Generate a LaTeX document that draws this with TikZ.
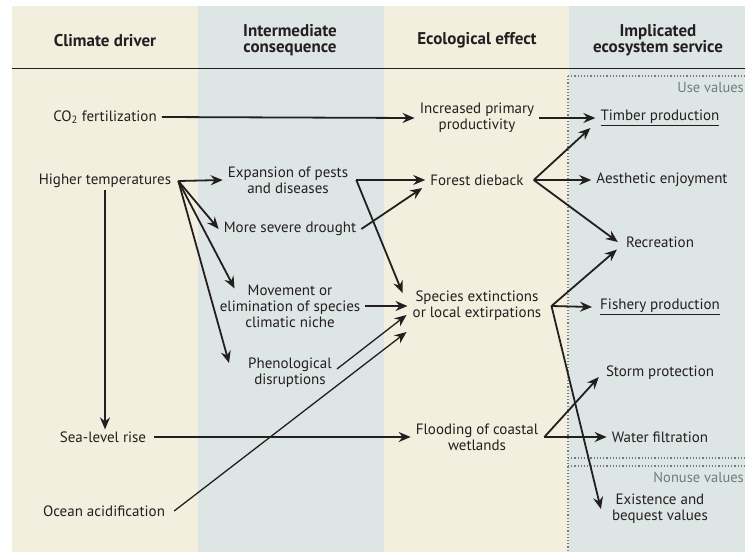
\documentclass[tikz,border=0pt]{standalone}
\usepackage{fontspec}
\setmainfont{PT Sans}
\usetikzlibrary{arrows.meta}
\definecolor{sand}{RGB}{243,239,222}
\definecolor{mist}{RGB}{222,229,229}
\definecolor{ink}{RGB}{35,31,32}
\definecolor{sage}{RGB}{105,128,124}
\tikzset{
  lbl/.style={align=center, text=ink, font=\fontsize{15}{16}\selectfont, inner xsep=5pt, inner ysep=2pt},
  hdr/.style={align=center, text=ink, font=\fontsize{17}{16}\selectfont\bfseries},
  grp/.style={text=sage, font=\fontsize{14.5}{14}\selectfont, inner sep=0pt, anchor=east},
  arr/.style={-{Stealth[length=12pt,width=10pt,inset=4pt]}, line width=1.8pt, draw=ink},
  thinarr/.style={arr, line width=1.3pt},
  band/.style={draw=sage, line width=1.2pt, dash pattern=on 1.2pt off 2pt}
}
\begin{document}
\begin{tikzpicture}[x=1pt, y=-1pt]
\useasboundingbox (0,0) rectangle (745,552);
% columns
\foreach \xa/\xb/\col in {12/198/sand, 198/384/mist, 384/569/sand, 569/745/mist}
  \fill[\col] (\xa,6) rectangle (\xb,552);
\draw[ink, line width=1pt] (12,68) -- (745,68);
% headers
\node[hdr] (h1) at (105,41) {Climate driver};
\node[hdr] (h2) at (290,40) {Intermediate\\consequence};
\node[hdr] (h3) at (477,40) {Ecological effect};
\node[hdr] (h4) at (658,40) {Implicated\\ecosystem service};
% value groups
\draw[band] (568,76) -- (745,76);
\draw[band] (568,76) -- (568,552);
\draw[band] (568,458) -- (745,458);
\draw[band] (568,466) -- (745,466);
\node[grp] (use) at (744,88) {Use values};
\node[grp] (nonuse) at (744,477) {Nonuse values};
% climate drivers
\node[lbl] (co2) at (105,117) {CO\textsubscript{2} fertilization};
\node[lbl] (ht) at (105,181) {Higher temperatures};
\node[lbl] (slr) at (103,437) {Sea-level rise};
\node[lbl] (oa) at (104,511) {Ocean acidification};
% intermediate consequences
\node[lbl] (pests) at (288,180) {Expansion of pests\\and diseases};
\node[lbl] (drought) at (290,229) {More severe drought};
\node[lbl] (niche) at (290,306) {Movement or\\elimination of species\\climatic niche};
\node[lbl] (pheno) at (290,373) {Phenological\\disruptions};
% ecological effects
\node[lbl] (ipp) at (477,118) {Increased primary\\productivity};
\node[lbl] (dieback) at (477,180) {Forest dieback};
\node[lbl] (extinct) at (477,306) {Species extinctions\\or local extirpations};
\node[lbl] (flood) at (477,437) {Flooding of coastal\\wetlands};
% ecosystem services
\node[lbl] (timber) at (660,118) {\underline{Timber production}};
\node[lbl] (aesth) at (662,180) {Aesthetic enjoyment};
\node[lbl] (recr) at (660,242) {Recreation};
\node[lbl] (fish) at (660,307) {\underline{Fishery production}};
\node[lbl] (storm) at (660,373) {Storm protection};
\node[lbl] (water) at (660,437) {Water filtration};
\node[lbl] (exist) at (660,509) {Existence and\\bequest values};
% fan points
\coordinate (htfan) at ([xshift=2pt]ht.east);
\coordinate (pestfan) at ([xshift=3pt]pests.east);
\coordinate (diefan) at ([xshift=5pt]dieback.east);
\coordinate (extfan) at ([xshift=5pt]extinct.east);
\coordinate (floodfan) at ([xshift=1pt]flood.east);
% connectors
\draw[arr] (co2.east) -- (ipp.west);
\draw[arr] (ipp.east) -- (timber.west);
\draw[arr] (htfan) -- (pests.west);
\draw[arr] (htfan) -- (drought.west);
\draw[arr] (htfan) -- ([xshift=20pt,yshift=-6pt]niche.north west);
\draw[arr] (htfan) -- ([xshift=-14pt,yshift=10pt]pheno.west);
\draw[arr] (ht.south) -- (ht.south |- slr.north);
\draw[arr] (pestfan) -- (dieback.west);
\draw[arr] (pestfan) -- ([xshift=-5pt,yshift=-4pt]extinct.north west);
\draw[arr] (drought.east) -- ([xshift=-3pt,yshift=-8pt]dieback.west);
\draw[arr] (niche.east) -- (extinct.west);
\draw[thinarr] ([yshift=4pt]pheno.east) -- ([xshift=-1pt,yshift=-9pt]extinct.west);
\draw[thinarr] ([xshift=4pt]oa.east) -- ([xshift=-1pt,yshift=-9pt]extinct.south west);
\draw[arr] ([xshift=3pt]slr.east) -- (flood.west);
\draw[arr] (diefan) -- ([xshift=-5pt]timber.south west);
\draw[arr] (diefan) -- (aesth.west);
\draw[arr] (diefan) -- ([xshift=-3pt]recr.west);
\draw[arr] (extfan) -- ([xshift=-4pt]recr.south west);
\draw[arr] (extfan) -- ([xshift=-3pt]fish.west);
\draw[arr] (extfan) -- ([xshift=-6pt]exist.west);
\draw[arr] (floodfan) -- ([xshift=-2pt,yshift=5pt]storm.south west);
\draw[arr] (floodfan) -- (water.west);
\end{tikzpicture}
\end{document}
